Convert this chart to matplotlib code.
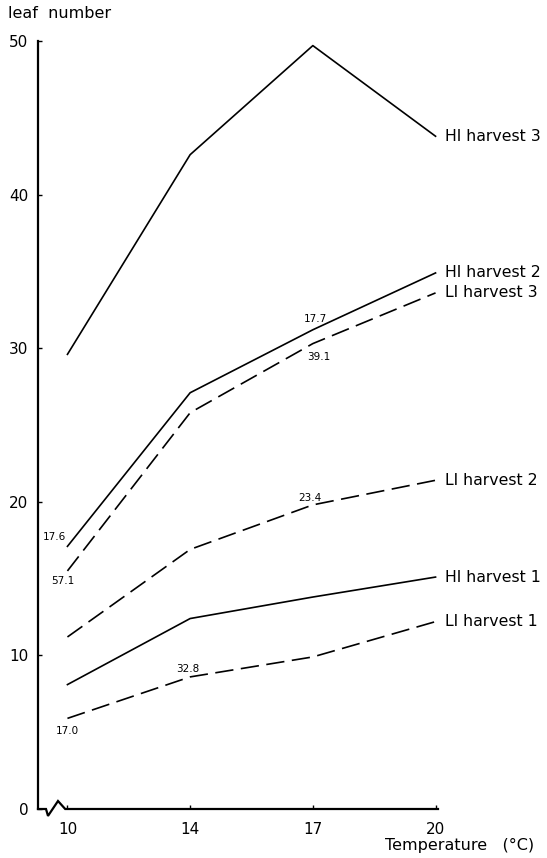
import matplotlib
matplotlib.use("Agg")
import matplotlib.pyplot as plt
from matplotlib.transforms import blended_transform_factory

# temperatures are drawn evenly spaced, as in the original
temps = ["10", "14", "17", "20"]
xpos = [0, 1, 2, 3]

hi_harvest_1 = [8.1, 12.4, 13.8, 15.1]
hi_harvest_2 = [17.1, 27.1, 31.2, 34.9]
hi_harvest_3 = [29.6, 42.6, 49.7, 43.8]
li_harvest_1 = [5.9, 8.6, 9.9, 12.2]
li_harvest_2 = [11.2, 16.9, 19.8, 21.4]
li_harvest_3 = [15.5, 25.8, 30.3, 33.6]

series = [
    ("HI harvest 3", hi_harvest_3, "-"),
    ("HI harvest 2", hi_harvest_2, "-"),
    ("LI harvest 3", li_harvest_3, "--"),
    ("LI harvest 2", li_harvest_2, "--"),
    ("HI harvest 1", hi_harvest_1, "-"),
    ("LI harvest 1", li_harvest_1, "--"),
]

# small numbers written next to some points: (text, series values, index, dx, dy, ha)
notes = [
    ("17.6", hi_harvest_2, 0, -1, 7, "right"),
    ("57.1", li_harvest_3, 0, -3, -7, "center"),
    ("17.0", li_harvest_1, 0, 0, -9, "center"),
    ("32.8", li_harvest_1, 1, -2, 6, "center"),
    ("23.4", li_harvest_2, 2, -2, 5, "center"),
    ("17.7", hi_harvest_2, 2, 2, 8, "center"),
    ("39.1", li_harvest_3, 2, 4, -10, "center"),
]

fig = plt.figure(figsize=(5.47, 8.58), dpi=100)
ax = fig.add_axes([38 / 547, 49 / 858, 400 / 547, 768 / 858])

for name, vals, ls in series:
    if ls == "--":
        ax.plot(xpos, vals, color="black", lw=1.2, linestyle=(0, (11, 4.5)))
    else:
        ax.plot(xpos, vals, color="black", lw=1.2)
    ax.annotate(name, (xpos[-1], vals[-1]), xytext=(7, 0), textcoords="offset points",
                ha="left", va="center", fontsize=11.3, annotation_clip=False)

for txt, vals, i, dx, dy, ha in notes:
    ax.annotate(txt, (xpos[i], vals[i]), xytext=(dx, dy), textcoords="offset points",
                ha=ha, va="center", fontsize=7.5, annotation_clip=False)

ax.set_xlim(-0.24, 3.02)
ax.set_ylim(0, 50)
ax.set_xticks(xpos)
ax.set_xticklabels(temps)
ax.set_yticks([0, 10, 20, 30, 40, 50])
ax.tick_params(direction="in", length=3, width=1, labelsize=11)
ax.tick_params(axis="x", pad=9)
ax.tick_params(axis="y", pad=7)

for side in ["top", "right", "bottom"]:
    ax.spines[side].set_visible(False)
ax.spines["left"].set_linewidth(1.6)

# bottom axis with a break mark between the y axis and the first temperature
tr = blended_transform_factory(ax.transAxes, ax.transData)
bx = [0.0, 0.02, 0.025, 0.05, 0.068, 1.0]
by = [0, 0, -0.45, 0.52, 0, 0]
ax.plot(bx, by, color="black", lw=1.6, transform=tr, clip_on=False, solid_joinstyle="miter")

fig.text(8 / 547, 1 - 14 / 858, "leaf  number", fontsize=11.5, va="center", ha="left")
fig.text(385 / 547, 1 - 845 / 858, "Temperature   (°C)", fontsize=11.5, va="center", ha="left")

fig.savefig("out.png", dpi=100)
